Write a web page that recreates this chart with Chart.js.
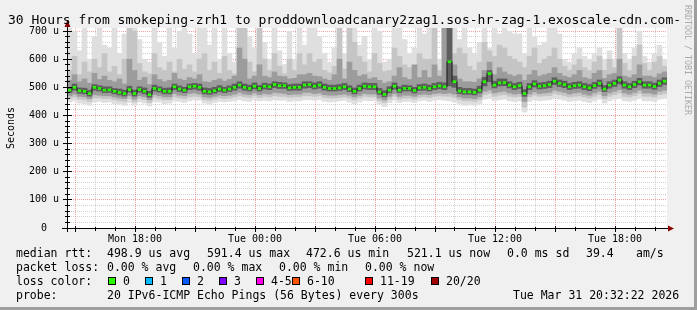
<!DOCTYPE html>
<html>
<head>
<meta charset="utf-8">
<script src="https://cdn.jsdelivr.net/npm/chart.js@4.4.1/dist/chart.umd.min.js"></script>
<style>
  html, body { margin: 0; padding: 0; background: #f0f0f0; }
  canvas { display: block; }
</style>
</head>
<body>
<canvas id="smoke" width="697" height="310"></canvas>
<script>
// time in minutes since Mon 00:00, one column = 15 minutes
const startMin = 876;
const stepMin = 15;
const endMin = 2676;

const xLabelMin = [1080, 1440, 1800, 2160, 2520];
const xLabels = ['Mon 18:00', 'Tue 00:00', 'Tue 06:00', 'Tue 12:00', 'Tue 18:00'];
const yMajor = [0, 100, 200, 300, 400, 500, 600, 700];

// median rtt (us)
const med = [
  490,500,488,486,478,500,496,490,491,486,482,478,492,478,492,486,474,496,492,486,486,502,494,490,
  502,504,500,486,484,488,494,490,494,500,508,500,496,504,496,504,502,510,506,506,498,500,500,508,
  510,504,508,500,496,496,498,502,494,486,496,504,502,502,484,475,490,504,490,496,496,489,498,500,
  496,502,505,502,591,520,487,484,484,482,490,520,549,508,516,517,508,502,506,478,502,512,504,506,
  510,522,514,510,502,506,508,502,498,506,514,494,508,514,526,508,502,510,520,508,508,503,514,522
];

// smoke, outer (light) to inner (dark) bands
const hi1 = [
  711,700,630,711,600,680,711,650,640,711,620,690,711,711,670,600,590,711,660,610,711,640,700,711,
  690,620,711,711,650,711,600,711,620,590,711,711,680,640,711,660,600,711,630,580,700,600,711,650,
  711,711,680,620,590,640,711,620,711,711,650,680,600,711,700,590,600,711,711,670,620,640,711,690,
  711,711,600,711,711,711,670,711,640,620,660,711,640,711,690,711,700,690,690,620,711,680,650,660,
  711,711,690,600,590,620,640,610,600,620,640,600,630,600,711,620,600,640,700,610,590,620,650,600
];
const lo1 = [
  448,452,444,442,436,448,450,446,448,442,440,436,446,436,448,444,434,450,448,442,444,452,450,446,
  452,456,454,444,440,446,450,448,450,452,456,452,450,456,452,454,452,456,454,454,450,452,452,456,
  456,454,456,450,448,450,452,454,448,442,448,454,452,452,440,432,446,454,446,450,450,446,452,454,
  450,454,456,454,452,448,440,436,438,436,442,458,462,452,456,458,452,450,452,412,450,456,452,454,
  456,462,458,454,450,452,454,450,446,452,458,444,452,458,462,452,450,454,462,452,452,450,458,462
];
const hi2 = [
  560,610,545,590,555,600,570,620,555,575,545,600,711,700,585,555,548,620,570,560,590,555,600,565,
  580,555,600,620,560,590,550,610,560,548,711,711,590,555,711,600,560,620,575,548,600,560,620,580,
  620,590,600,560,552,575,711,565,711,660,610,590,555,620,585,556,560,640,610,580,570,556,620,600,
  600,711,560,711,711,620,640,620,575,560,590,660,630,610,650,640,610,600,590,570,610,640,585,600,
  610,640,600,575,560,580,600,570,560,590,610,560,600,570,711,585,560,610,650,585,560,590,610,575
];
const lo2 = [
  460,465,458,456,450,462,462,460,460,456,452,450,460,448,460,456,446,464,460,456,456,466,462,460,
  466,468,466,456,454,458,462,460,462,466,470,466,464,470,464,468,466,470,468,468,464,466,466,470,
  470,468,470,464,462,462,464,466,462,456,462,468,466,466,452,446,458,468,458,462,462,458,464,466,
  464,468,470,468,468,464,456,452,452,450,456,474,478,468,472,474,468,466,468,430,466,472,468,470,
  470,478,474,470,466,468,470,466,462,468,474,460,468,474,480,468,466,470,478,468,468,466,474,478
];
const hi3 = [
  525,545,520,530,515,550,528,540,525,520,530,512,600,560,525,535,510,545,528,520,525,550,530,525,
  535,530,545,520,518,525,530,522,528,540,640,600,530,540,580,540,535,555,540,538,530,532,545,545,
  550,540,538,530,525,545,600,530,590,560,540,545,530,535,525,515,520,540,570,535,528,580,535,560,
  535,580,540,711,711,580,530,520,520,518,530,560,590,545,570,555,545,540,545,525,545,560,540,545,
  550,570,550,540,535,545,560,535,530,550,560,532,545,550,600,540,535,545,580,540,540,535,548,555
];
const lo3 = [
  470,476,468,466,460,474,472,470,470,466,462,460,470,458,470,466,456,474,470,466,466,478,472,470,
  478,480,476,466,464,468,472,470,472,476,482,476,474,480,474,478,476,482,480,478,474,476,476,482,
  482,478,480,474,472,472,474,476,472,466,472,478,476,476,462,455,468,478,468,472,472,468,474,476,
  474,478,480,478,480,476,466,462,462,460,466,486,490,480,484,486,480,476,478,450,476,484,478,480,
  482,490,486,482,476,480,482,476,472,480,486,470,480,486,492,480,476,482,490,480,480,476,486,490
];
const hi4 = [
  500,512,498,497,490,510,506,502,502,496,494,490,504,490,502,498,486,508,502,497,498,512,505,500,
  512,514,512,498,496,500,506,500,505,512,520,512,508,516,507,515,512,520,518,516,510,512,512,520,
  520,516,520,512,508,508,510,514,506,498,508,516,514,514,496,488,502,516,502,508,506,500,510,512,
  508,514,518,516,711,540,500,496,496,494,504,536,560,522,530,530,520,514,518,492,514,524,516,518,
  522,534,526,522,514,518,520,514,510,518,526,506,520,526,538,520,514,522,532,520,520,515,526,534
];
const lo4 = [
  481,490,479,477,469,490,487,481,482,477,473,469,483,469,483,477,465,487,483,477,477,492,485,481,
  492,494,490,477,475,479,485,481,485,490,497,490,487,494,487,494,492,499,496,496,489,490,490,497,
  499,494,497,490,487,487,489,492,485,477,487,494,492,492,475,466,481,494,481,487,487,480,489,490,
  487,492,495,492,505,500,478,475,475,473,480,505,520,498,505,506,498,492,496,468,492,501,494,496,
  499,510,503,499,492,496,497,492,488,496,503,485,497,503,512,497,492,499,508,497,497,493,503,510
];

const titleText = '30 Hours from smokeping-zrh1 to proddownloadcanary2zag1.sos-hr-zag-1.exoscale-cdn.com-';
const rttStats = ['498.9 us avg', '591.4 us max', '472.6 us min', '521.1 us now', '0.0 ms sd', '39.4', 'am/s'];
const lossStats = ['0.00 % avg', '0.00 % max', '0.00 % min', '0.00 % now'];
const lossLabels = ['0', '1', '2', '3', '4-5', '6-10', '11-19', '20/20'];
const lossColors = ['#26ff00', '#00b8ff', '#0059ff', '#7e00ff', '#ff00ea', '#ff5500', '#ff0000', '#a10000'];
const probeText = '20 IPv6-ICMP Echo Pings (56 Bytes) every 300s';
const stampText = 'Tue Mar 31 20:32:22 2026';

const colX = i => startMin + stepMin * i + stepMin / 2;
const band = (lo, hi) => lo.map((v, i) => ({ x: colX(i), y: [v, hi[i]] }));

const barStyle = { type: 'bar', grouped: false, barThickness: 5, borderWidth: 0, borderSkipped: false };
const MONO = '"DejaVu Sans Mono"';

const frame = {
  id: 'frame',
  beforeDraw(chart) {
    const { ctx, chartArea: a, width, height } = chart;
    ctx.save();
    ctx.fillStyle = '#f0f0f0';
    ctx.fillRect(0, 0, width, height);
    ctx.fillStyle = '#9e9e9e';
    ctx.fillRect(0, height - 3, width, 3);
    ctx.fillRect(width - 3, 0, 3, height);
    ctx.fillStyle = '#ffffff';
    ctx.fillRect(a.left, a.top, a.right - a.left, a.bottom - a.top);
    ctx.restore();
  },
  afterDraw(chart) {
    const { ctx, chartArea: a } = chart;
    const x = chart.scales.x, y = chart.scales.y;
    ctx.save();
    ctx.fillStyle = '#000';
    // axes
    ctx.fillRect(a.left, a.top - 4, 1, a.bottom - a.top + 8);
    ctx.fillRect(a.left - 5, a.bottom, a.right - a.left + 8, 1);
    // tick marks
    for (let v = 20; v <= 700; v += 20) {
      const py = Math.round(y.getPixelForValue(v) - 0.5);
      const len = v % 100 === 0 ? 4 : 2;
      ctx.fillRect(a.left - len, py, len * 2 + 1, 1);
    }
    for (let v = 900; v < endMin; v += 60) {
      const px = Math.round(x.getPixelForValue(v) - 0.5);
      const len = v % 180 === 0 ? 3 : 2;
      ctx.fillRect(px, a.bottom - len + 1, 1, len * 2);
    }
    // arrows
    ctx.fillStyle = '#8b0000';
    ctx.beginPath();
    ctx.moveTo(a.left + 0.5, a.top - 8);
    ctx.lineTo(a.left + 3.5, a.top - 1);
    ctx.lineTo(a.left - 2.5, a.top - 1);
    ctx.closePath();
    ctx.fill();
    ctx.beginPath();
    ctx.moveTo(a.right + 7, a.bottom + 0.5);
    ctx.lineTo(a.right + 1, a.bottom - 2.5);
    ctx.lineTo(a.right + 1, a.bottom + 3.5);
    ctx.closePath();
    ctx.fill();

    // title
    ctx.fillStyle = '#000';
    ctx.textBaseline = 'alphabetic';
    ctx.textAlign = 'left';
    ctx.font = '13px ' + MONO;
    ctx.fillText(titleText, 8, 24);

    // legend rows
    ctx.font = '11.5px ' + MONO;
    ctx.fillText('median rtt:', 16, 257);
    [107, 207, 306, 407, 507, 586, 636].forEach((px, i) => ctx.fillText(rttStats[i], px, 257));
    ctx.fillText('packet loss:', 16, 271);
    [107, 193, 279, 365].forEach((px, i) => ctx.fillText(lossStats[i], px, 271));
    ctx.fillText('loss color:', 16, 285);
    [108, 145, 182, 219, 256, 292, 365, 431].forEach((px, i) => {
      ctx.fillStyle = lossColors[i];
      ctx.fillRect(px, 277, 8, 8);
      ctx.strokeStyle = '#000';
      ctx.lineWidth = 1;
      ctx.strokeRect(px + 0.5, 277.5, 7, 7);
      ctx.fillStyle = '#000';
      ctx.fillText(lossLabels[i], px + 15, 285);
    });
    ctx.fillText('probe:', 16, 299);
    ctx.fillText(probeText, 107, 299);
    ctx.fillText(stampText, 513, 299);

    // y title
    ctx.save();
    ctx.translate(14, (a.top + a.bottom) / 2);
    ctx.rotate(-Math.PI / 2);
    ctx.textAlign = 'center';
    ctx.font = '10px ' + MONO;
    ctx.fillText('Seconds', 0, 0);
    ctx.restore();

    // watermark
    ctx.save();
    ctx.translate(685, 5);
    ctx.rotate(Math.PI / 2);
    ctx.fillStyle = '#aaaaaa';
    ctx.font = '8.3px ' + MONO;
    ctx.fillText('RRDTOOL / TOBI OETIKER', 0, 0);
    ctx.restore();
    ctx.restore();
  }
};

new Chart(document.getElementById('smoke'), {
  type: 'bar',
  data: {
    datasets: [
      Object.assign({}, barStyle, { barThickness: 3, data: med.map((v, i) => ({ x: colX(i), y: [v - 3.5, v + 3.5] })), backgroundColor: lossColors[0], order: 0 }),
      { type: 'line', data: med.map((v, i) => ({ x: colX(i), y: v })), borderColor: '#1a1a1a', borderWidth: 1, stepped: 'middle', pointRadius: 0, order: 1 },
      Object.assign({}, barStyle, { data: band(lo4, hi4), backgroundColor: '#5e5e5e', order: 2 }),
      Object.assign({}, barStyle, { data: band(lo3, hi3), backgroundColor: '#9c9c9c', order: 3 }),
      Object.assign({}, barStyle, { data: band(lo2, hi2), backgroundColor: '#c5c5c5', order: 4 }),
      Object.assign({}, barStyle, { data: band(lo1, hi1), backgroundColor: '#dfdfdf', order: 5 })
    ]
  },
  options: {
    responsive: false,
    animation: false,
    devicePixelRatio: 1,
    events: [],
    layout: { padding: { top: 28, right: 30, left: 0, bottom: 0 } },
    plugins: { legend: { display: false }, tooltip: { enabled: false }, title: { display: false } },
    scales: {
      x: {
        type: 'linear',
        min: startMin,
        max: endMin,
        offset: false,
        z: 1,
        afterFit: s => { s.height = 82; },
        afterBuildTicks: s => {
          const t = [];
          for (let v = 900; v < endMin; v += 60) t.push({ value: v });
          s.ticks = t;
        },
        grid: {
          offset: false,
          drawTicks: false,
          lineWidth: 1,
          color: c => (c.tick && c.tick.value % 180 === 0) ? 'rgba(230,70,70,0.5)' : 'rgba(140,140,140,0.4)'
        },
        border: { display: false, dash: [1, 1] },
        ticks: {
          autoSkip: false,
          maxRotation: 0,
          minRotation: 0,
          padding: 5,
          color: '#000',
          font: { family: 'DejaVu Sans Mono', size: 10 },
          callback: v => { const k = xLabelMin.indexOf(v); return k >= 0 ? xLabels[k] : ''; }
        }
      },
      y: {
        type: 'linear',
        min: 0,
        max: 711,
        z: 1,
        afterFit: s => { s.width = 67; },
        afterBuildTicks: s => {
          const t = [];
          for (let v = 0; v <= 700; v += 20) t.push({ value: v });
          s.ticks = t;
        },
        grid: {
          drawTicks: false,
          lineWidth: 1,
          color: c => {
            const v = c.tick ? c.tick.value : -1;
            if (v === 0) return 'rgba(0,0,0,0)';
            return v % 100 === 0 ? 'rgba(230,70,70,0.5)' : 'rgba(140,140,140,0.4)';
          }
        },
        border: { display: false, dash: [1, 1] },
        ticks: {
          autoSkip: false,
          padding: 8,
          color: '#000',
          font: { family: 'DejaVu Sans Mono', size: 10 },
          callback: v => yMajor.includes(v) ? (v === 0 ? '0  ' : v + ' u') : ''
        }
      }
    }
  },
  plugins: [frame]
});
</script>
</body>
</html>
